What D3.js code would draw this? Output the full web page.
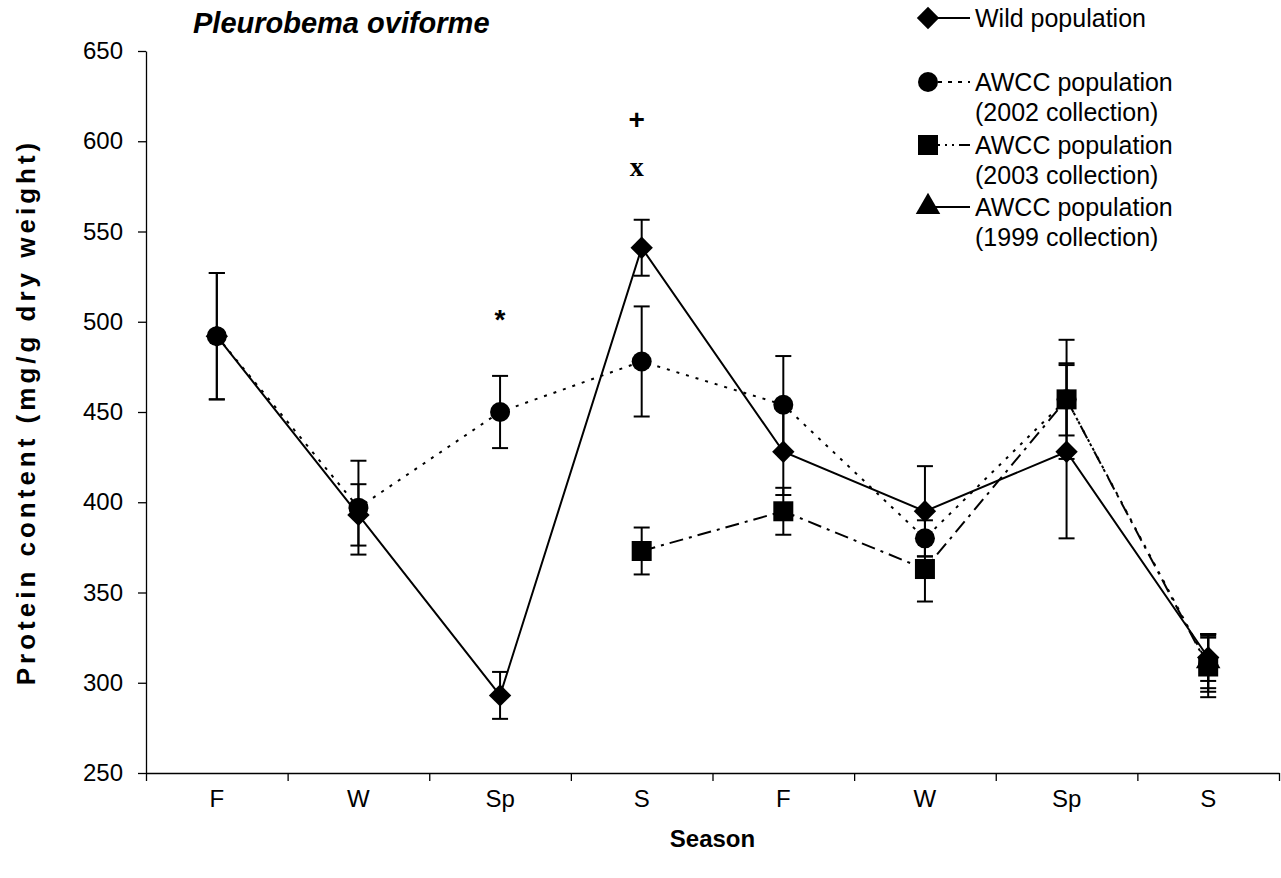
<!DOCTYPE html>
<html>
<head>
<meta charset="utf-8">
<script src="https://cdn.jsdelivr.net/npm/d3@7"></script>
<style>
  body { margin: 0; background: #fff; }
  svg text { font-family: "Liberation Sans", Arial, sans-serif; fill: #000; }
  .axis path, .axis line { stroke: #000; stroke-width: 1.3; }
  .axis text { font-size: 24px; }
</style>
</head>
<body>
<div id="chart"></div>
<script>
// season categories along the x axis (two years)
var seasons = ["F", "W", "Sp", "S", "F", "W", "Sp", "S"];

// mean protein content (mg/g dry weight) and standard error, per series
var wildMean = [492, 393, 293, 541, 428, 395, 428, 314];
var wildErr  = [35, 17, 13, 15.5, 24, 25, 48, 13];

var awcc2002Mean = [492, 397, 450, 478, 454, 380, 457, 310];
var awcc2002Err  = [35, 26, 20, 30.5, 27, 10, 20, 15];

var awcc2003Mean = [null, null, null, 373, 395, 363, 457, 309];
var awcc2003Err  = [null, null, null, 13, 13, 18, 33, 17];

var awcc1999Mean = [null, null, null, null, null, null, null, 312];
var awcc1999Err  = [null, null, null, null, null, null, null, 15];

var yTicks = [250, 300, 350, 400, 450, 500, 550, 600, 650];

// significance marks above points
var noteLabels = ["*", "+", "x"];
var noteIndex  = [2, 3, 3];
var noteValue  = [501, 612, 586];

var width = 1281, height = 878;
var margin = {top: 51, right: 2, bottom: 105, left: 146};

var svg = d3.select("#chart").append("svg")
    .attr("width", width)
    .attr("height", height);

var x = d3.scaleBand()
    .domain(d3.range(seasons.length))
    .range([margin.left, width - margin.right]);

// linear twin of the band scale, used for the boundary ticks
var xEdge = d3.scaleLinear()
    .domain([0, seasons.length])
    .range([margin.left, width - margin.right]);

var y = d3.scaleLinear()
    .domain([250, 650])
    .range([height - margin.bottom, margin.top]);

function cx(i){ return x(i) + x.bandwidth() / 2; }

//axes
svg.append("g").attr("class", "axis")
    .attr("transform", "translate(0," + y(250) + ")")
    .call(d3.axisBottom(xEdge).tickValues(d3.range(seasons.length + 1)).tickFormat("").tickSize(8).tickSizeOuter(0));

var xLab = svg.append("g").attr("class", "axis")
    .attr("transform", "translate(0," + y(250) + ")")
    .call(d3.axisBottom(x).tickFormat(function(i){ return seasons[i]; }).tickSize(0).tickPadding(17));
xLab.select(".domain").remove();

svg.append("g").attr("class", "axis")
    .attr("transform", "translate(" + margin.left + ",0)")
    .call(d3.axisLeft(y).tickValues(yTicks).tickSize(8).tickSizeOuter(0).tickPadding(15));

// axis titles and chart title
svg.append("text").text("Season")
    .attr("x", (margin.left + width - margin.right) / 2).attr("y", 847)
    .attr("text-anchor", "middle").style("font-size", "24px").style("font-weight", "bold");

svg.append("text").text("Protein content (mg/g dry weight)")
    .attr("transform", "translate(35," + y(450) + ") rotate(-90)")
    .attr("text-anchor", "middle").style("font-size", "26px").style("font-weight", "bold")
    .style("letter-spacing", "4px");

svg.append("text").text("Pleurobema oviforme")
    .attr("x", 193).attr("y", 33)
    .style("font-size", "29px").style("font-weight", "bold").style("font-style", "italic");

var series = [
    {mean: wildMean, err: wildErr, dash: null, shape: "diamond"},
    {mean: awcc2002Mean, err: awcc2002Err, dash: "3,7", shape: "circle"},
    {mean: awcc2003Mean, err: awcc2003Err, dash: "14,6,3,6", shape: "square"},
    {mean: awcc1999Mean, err: awcc1999Err, dash: null, shape: "triangle"}
];

function symbolPath(shape){
    if (shape == "diamond") return d3.symbol().type(d3.symbolSquare).size(250)();
    if (shape == "circle") return d3.symbol().type(d3.symbolCircle).size(314)();
    if (shape == "square") return d3.symbol().type(d3.symbolSquare).size(400)();
    return d3.symbol().type(d3.symbolTriangle).size(260)();
}
function symbolRotate(shape){
    return shape == "diamond" ? " rotate(45)" : "";
}

var line = d3.line()
    .defined(function(d){ return d != null; })
    .x(function(d, i){ return cx(i); })
    .y(function(d){ return y(d); });

// lines first, then error bars, then markers on top
series.forEach(function(s){
    svg.append("path").datum(s.mean)
        .attr("d", line)
        .attr("fill", "none")
        .attr("stroke", "#000")
        .attr("stroke-width", 2)
        .attr("stroke-dasharray", s.dash);
});

series.forEach(function(s){
    var pts = s.mean.map(function(v, i){ return {i: i, v: v, e: s.err[i]}; })
        .filter(function(d){ return d.v != null; });
    var g = svg.append("g").attr("stroke", "#000").attr("stroke-width", 2);
    g.selectAll(".bar").data(pts).enter().append("line")
        .attr("x1", function(d){ return cx(d.i); }).attr("x2", function(d){ return cx(d.i); })
        .attr("y1", function(d){ return y(d.v + d.e); }).attr("y2", function(d){ return y(d.v - d.e); });
    [1, -1].forEach(function(sign){
        g.selectAll(".cap" + sign).data(pts).enter().append("line")
            .attr("x1", function(d){ return cx(d.i) - 8; }).attr("x2", function(d){ return cx(d.i) + 8; })
            .attr("y1", function(d){ return y(d.v + sign * d.e); }).attr("y2", function(d){ return y(d.v + sign * d.e); });
    });
});

series.forEach(function(s){
    var pts = s.mean.map(function(v, i){ return {i: i, v: v}; })
        .filter(function(d){ return d.v != null; });
    svg.append("g").selectAll("path").data(pts).enter().append("path")
        .attr("d", symbolPath(s.shape))
        .attr("transform", function(d){ return "translate(" + cx(d.i) + "," + y(d.v) + ")" + symbolRotate(s.shape); })
        .attr("fill", "#000");
});

// significance marks
noteLabels.forEach(function(t, k){
    svg.append("text").text(t)
        .attr("x", cx(noteIndex[k]) - (t == "*" ? 0 : 5)).attr("y", y(noteValue[k]))
        .attr("text-anchor", "middle").attr("dominant-baseline", "central")
        .style("font-weight", "bold")
        .style("font-size", "28px")
        .style("font-family", t == "x" ? "'Liberation Serif', serif" : null);
});

//legend
var legendLabels = [["Wild population"],
    ["AWCC population", "(2002 collection)"],
    ["AWCC population", "(2003 collection)"],
    ["AWCC population", "(1999 collection)"]];
var legendDash = [null, "4,6", "12,5,2,5,2,5", null];
var legendRowY = [18, 82, 145, 207];

legendLabels.forEach(function(lab, k){
    var g = svg.append("g").attr("transform", "translate(928," + legendRowY[k] + ")");
    g.append("line").attr("x1", 0).attr("x2", 42).attr("y1", 0).attr("y2", 0)
        .attr("stroke", "#000").attr("stroke-width", 2).attr("stroke-dasharray", legendDash[k]);
    g.append("path").attr("d", symbolPath(series[k].shape))
        .attr("transform", "translate(0,0)" + symbolRotate(series[k].shape)).attr("fill", "#000");
    lab.forEach(function(t, j){
        g.append("text").text(t).attr("x", 47).attr("y", j * 30)
            .attr("dominant-baseline", "central").style("font-size", "25px");
    });
});
</script>
</body>
</html>
